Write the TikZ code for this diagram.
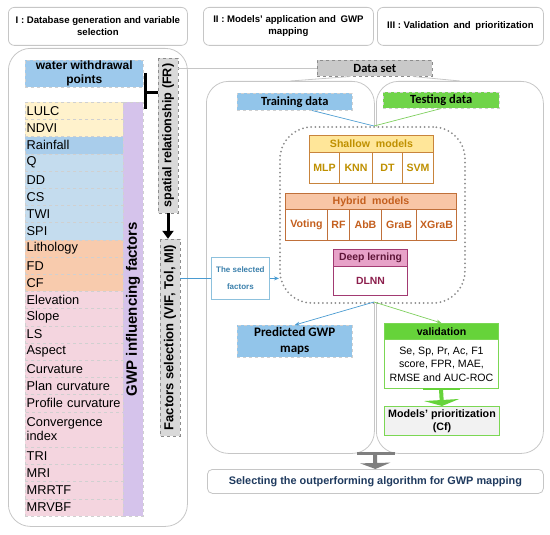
\documentclass[tikz,border=0pt]{standalone}
\usepackage{fontspec}
\setmainfont{Liberation Sans}
\newfontfamily\carl{Carlito}
\usetikzlibrary{arrows.meta,calc}
\newcommand{\myfs}[2]{\fontsize{#1}{#2}\selectfont}
\newcommand{\nohy}{\hyphenpenalty=10000\relax}
\newcommand{\bx}[6]{\node[#1, anchor=north west, minimum width={#4-#2}, minimum height={#5-#3}] (#6) at (#2,#3)}
\definecolor{pbord}{HTML}{C6C6C6}
\definecolor{rowline}{HTML}{D0D0D0}
\definecolor{wwp}{HTML}{9DC9EC}
\definecolor{yel}{HTML}{FFF2CC}
\definecolor{rain}{HTML}{A9CDEB}
\definecolor{lblue}{HTML}{C4DCEE}
\definecolor{ora}{HTML}{F8CBAD}
\definecolor{pink}{HTML}{F4D5DF}
\definecolor{purp}{HTML}{D5C3EB}
\definecolor{barg}{HTML}{D9D9D9}
\definecolor{dsg}{HTML}{C9C9C9}
\definecolor{trainb}{HTML}{92C5EA}
\definecolor{testg}{HTML}{70D44A}
\definecolor{shf}{HTML}{FFE699}
\definecolor{shb}{HTML}{C8843C}
\definecolor{sht}{HTML}{BF9000}
\definecolor{hyf}{HTML}{F8C6A6}
\definecolor{hyb}{HTML}{C0703A}
\definecolor{hyt}{HTML}{C45F1E}
\definecolor{dpf}{HTML}{E7A2C8}
\definecolor{dpb}{HTML}{A23A72}
\definecolor{dpt}{HTML}{5E1538}
\definecolor{dlnn}{HTML}{8C1F4D}
\definecolor{selb}{HTML}{8DC1DD}
\definecolor{selt}{HTML}{3B80AC}
\definecolor{bluel}{HTML}{4A9BD1}
\definecolor{greenl}{HTML}{7FCF5E}
\definecolor{valg}{HTML}{66D33A}
\definecolor{valb}{HTML}{7BD753}
\definecolor{prf}{HTML}{F2F2F2}
\definecolor{finalt}{HTML}{1F3A5E}
\definecolor{agray}{HTML}{7F7F7F}
\definecolor{dotc}{HTML}{8C8C8C}
\begin{document}
\begin{tikzpicture}[x=1pt,y=-1pt,
  hdr/.style={draw=pbord, rounded corners=6pt, line width=0.8pt, font=\bfseries\myfs{9.6}{12}, align=center, inner sep=0pt},
  panel/.style={draw=pbord, rounded corners=22pt, line width=0.8pt, inner sep=0pt},
  row/.style={draw=rowline, dashed, line width=0.4pt, font=\myfs{12.8}{14}\nohy, inner xsep=1.5pt, inner ysep=0pt, text width=95pt, align=left},
  gbar/.style={fill=barg, draw=dotc, dashed, line width=0.4pt, font=\bfseries\myfs{13}{15}, inner sep=0pt, rotate=90},
  cbox/.style={draw=rowline, dashed, line width=0.5pt, inner sep=0pt, align=center},
  shh/.style={draw=shb, fill=shf, line width=1pt, font=\bfseries\myfs{10.6}{12}, text=sht, inner sep=0pt},
  shc/.style={draw=shb, fill=white, line width=1pt, font=\bfseries\myfs{10.6}{12}, text=sht, inner sep=0pt},
  hyh/.style={draw=hyb, fill=hyf, line width=1pt, font=\bfseries\myfs{10.6}{12}, text=hyt, inner sep=0pt},
  hyc/.style={draw=hyb, fill=white, line width=1pt, font=\bfseries\myfs{10.6}{12}, text=hyt, inner sep=0pt},
  dph/.style={draw=dpb, fill=dpf, line width=1pt, font=\bfseries\myfs{10.4}{12}, text=dpt, inner sep=0pt},
  dpc/.style={draw=dpb, fill=white, line width=1pt, font=\bfseries\myfs{10.4}{12}, text=dlnn, inner sep=0pt},
  thinb/.style={draw=bluel, line width=0.7pt},
  thing/.style={draw=greenl, line width=0.7pt},
  grayl/.style={draw=pbord, line width=0.8pt}
]
\useasboundingbox (0,0) rectangle (550,535);

% headers
\bx{hdr}{8}{7}{187}{45}{h1} {I : Database generation and variable\\selection};
\bx{hdr}{203}{7}{373}{45}{h2} {II : Models’ application and\hspace{2pt} GWP\\mapping};
\bx{hdr}{377}{7}{543}{45}{h3} {III : Validation\hspace{2pt} and\hspace{2pt} prioritization};

% panels
\bx{panel}{8}{48}{187}{526}{p1} {};
\bx{panel}{206}{81}{374}{453}{p2} {};
\bx{panel}{376}{81}{543}{453}{p3} {};

% left column
\bx{cbox, fill=wwp, font=\bfseries\myfs{12}{14}}{25}{60}{143}{87}{wwp} {water withdrawal\\points};
\bx{row, fill=yel}{25}{102}{123}{119.2}{r1} {LULC};
\bx{row, fill=yel}{25}{119.2}{123}{136.4}{r2} {NDVI};
\bx{row, fill=rain}{25}{136.4}{123}{153.6}{r3} {Rainfall};
\bx{row, fill=lblue}{25}{153.6}{123}{170.8}{r4} {Q};
\bx{row, fill=lblue}{25}{170.8}{123}{188}{r5} {DD};
\bx{row, fill=lblue}{25}{188}{123}{205.2}{r6} {CS};
\bx{row, fill=lblue}{25}{205.2}{123}{222.4}{r7} {TWI};
\bx{row, fill=lblue}{25}{222.4}{123}{239.6}{r8} {SPI};
\bx{row, fill=ora}{25}{239.6}{123}{256.8}{r9} {Lithology};
\bx{row, fill=ora}{25}{256.8}{123}{274}{r10} {FD};
\bx{row, fill=ora}{25}{274}{123}{291.2}{r11} {CF};
\bx{row, fill=pink}{25}{291.2}{123}{308.4}{r12} {Elevation};
\bx{row, fill=pink}{25}{308.4}{123}{325.6}{r13} {Slope};
\bx{row, fill=pink}{25}{325.6}{123}{342.8}{r14} {LS};
\bx{row, fill=pink}{25}{342.8}{123}{360}{r15} {Aspect};
\bx{row, fill=pink}{25}{360}{123}{377.2}{r16} {Curvature};
\bx{row, fill=pink}{25}{377.2}{123}{394.4}{r17} {Plan curvature};
\bx{row, fill=pink}{25}{394.4}{123}{411.6}{r18} {Profile curvature};
\bx{row, fill=pink}{25}{411.6}{123}{447}{r19} {Convergence\\index};
\bx{row, fill=pink}{25}{447}{123}{464.2}{r20} {TRI};
\bx{row, fill=pink}{25}{464.2}{123}{481.4}{r21} {MRI};
\bx{row, fill=pink}{25}{481.4}{123}{498.6}{r22} {MRRTF};
\bx{row, fill=pink}{25}{498.6}{123}{515.8}{r23} {MRVBF};
\node[gbar, fill=purp, draw=rowline, font=\bfseries\myfs{15}{17}, minimum width=414pt, minimum height=20pt] (gwp) at (133,309) {GWP influencing factors};

\node[gbar, font=\bfseries\myfs{12.6}{15}, minimum width=155pt, minimum height=20pt] (fr) at (168,135.5) {spatial relationship (FR)};
\node[gbar, minimum width=197pt, minimum height=20pt] (fs) at (170,337.5) {Factors selection (VIF, Tol, MI)};

% bracket and arrow
\coordinate (bt) at (145,73);
\coordinate (bb) at (145,109);
\coordinate (bm) at (145,92.5);
\draw[line width=3pt] (bt) -- (bb);
\draw[line width=3pt] (bm) -- (bm -| fr.north);
\draw[line width=3pt, -{Triangle[width=11pt,length=8pt]}] (fr.west) -- (fr.west |- fs.east);

% data set
\bx{cbox, fill=dsg, draw=dotc, font=\carl\bfseries\myfs{12.5}{14}}{317}{60}{432}{76}{ds} {Data set};
\draw[grayl] (fr.south |- ds.west) -- (ds.west);
\draw[grayl] ($(ds.south west)!0.29!(ds.south east)$) -- (p2.north);
\draw[grayl] ($(ds.south west)!0.83!(ds.south east)$) -- (p3.north);

% training/testing
\bx{cbox, fill=trainb, font=\carl\bfseries\myfs{12.5}{14}}{237}{93}{352}{110}{train} {Training data};
\bx{cbox, fill=testg, font=\carl\bfseries\myfs{12.5}{14}}{383}{92}{499}{108}{test} {Testing data};

% dotted container
\bx{draw=dotc, fill=white, line width=2pt, dash pattern=on 0pt off 4.2pt, line cap=round, rounded corners=32pt, inner sep=0pt}{279}{126}{464}{302}{dots} {};
\coordinate (mt) at (374,126);
\coordinate (mb) at (374,302);
\draw[thinb] ($(train.south west)!0.65!(train.south east)$) -- (mt);
\draw[thing] (test.south) -- (mt);

% shallow
\bx{shh}{309}{135}{433}{152}{shallow} {Shallow\hspace{3pt} models};
\bx{shc}{309}{152}{339}{183}{mlp} {MLP};
\bx{shc}{339}{152}{372}{183}{knn} {KNN};
\bx{shc}{372}{152}{402}{183}{dt} {DT};
\bx{shc}{402}{152}{433}{183}{svm} {SVM};
% hybrid
\bx{hyh}{285}{193}{456}{209}{hybrid} {Hybrid\hspace{3pt} models};
\bx{hyc}{285}{209}{327}{240}{voting} {Voting};
\bx{hyc}{327}{209}{349}{240}{rf} {RF};
\bx{hyc}{349}{209}{381}{240}{abb} {AbB};
\bx{hyc}{381}{209}{416}{240}{grab} {GraB};
\bx{hyc}{416}{209}{456}{240}{xgrab} {XGraB};
% deep
\bx{dph}{333}{249}{407}{266}{deep} {Deep lerning};
\bx{dpc}{333}{266}{407}{295}{dl} {DLNN};

% selected factors
\bx{draw=selb, fill=white, line width=0.8pt, inner sep=0pt, align=center, text=selt, font=\bfseries\myfs{8}{17}}{211}{257}{269}{299}{sel} {The selected\\factors};
\draw[thinb] (fs.south |- sel.west) -- (sel.west);
\draw[thinb, -{Stealth[length=5pt,width=4pt]}] (sel.east) -- (sel.east -| dots.west);

% outputs
\bx{cbox, fill=trainb, font=\carl\bfseries\myfs{13}{16}}{237}{325}{352}{357}{pred} {Predicted GWP\\maps};
\bx{draw=valb, fill=valg, line width=1pt, inner sep=0pt, font=\bfseries\myfs{10.6}{12}}{384}{323}{498}{339}{val} {validation};
\bx{draw=valb, fill=white, line width=1pt, inner sep=0pt, align=center, font=\myfs{10.6}{13.5}}{384}{339}{498}{388}{valbody} {Se, Sp, Pr, Ac, F1\\score, FPR, MAE,\\RMSE and AUC-ROC};
\draw[thinb, -{Stealth[length=5pt,width=4pt]}] (mb) -- (pred.north);
\draw[thing, -{Stealth[length=5pt,width=4pt]}] (mb) -- (val.north);

\bx{draw=valb, fill=prf, line width=1pt, inner sep=0pt, align=center, font=\bfseries\myfs{10.7}{13}}{384}{406}{499}{435}{prio} {Models’ prioritization\\(Cf)};
\coordinate (gtop) at (441,389);
\draw[draw=valg, line width=2.5pt] ($(gtop)+(-18,0)$) -- ($(gtop)+(19,0)$);
\draw[draw=valg, fill=valg, line width=4pt, -{Triangle[width=35pt,length=6pt]}] (gtop) -- (prio.north);

% final
\bx{draw=pbord, rounded corners=5pt, line width=0.8pt, inner sep=0pt, text=finalt, font=\bfseries\myfs{10.9}{13}}{207}{469}{543}{493}{final} {Selecting the outperforming algorithm for GWP mapping};
\coordinate (atop) at (375,453);
\draw[draw=agray, line width=3pt] ($(atop)+(-18,0)$) -- ($(atop)+(20,0)$);
\draw[draw=agray, fill=agray, line width=4pt, -{Triangle[width=30pt,length=6pt]}] (atop) -- (final.north);
\end{tikzpicture}
\end{document}
